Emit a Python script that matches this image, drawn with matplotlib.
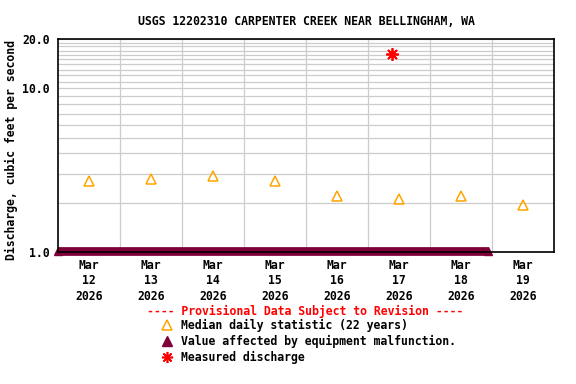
import numpy as np
import pandas as pd
import matplotlib
matplotlib.use('Agg')
import matplotlib.pyplot as plt
import matplotlib.dates as mdates
import matplotlib.transforms as mtransforms
from matplotlib.lines import Line2D
from matplotlib.ticker import FixedLocator, NullFormatter

# data
median_days = pd.to_datetime(['2026-03-12 12:00', '2026-03-13 12:00', '2026-03-14 12:00',
                              '2026-03-15 12:00', '2026-03-16 12:00', '2026-03-17 12:00',
                              '2026-03-18 12:00', '2026-03-19 12:00'])
median_flow = [2.73, 2.80, 2.93, 2.73, 2.21, 2.11, 2.21, 1.93]

measured_time = pd.to_datetime(['2026-03-17 09:20'])
measured_flow = [16.2]

# period flagged as equipment malfunction (values plotted at the bottom of the axis)
malf_time = pd.to_datetime(['2026-03-12 00:00', '2026-03-18 22:30'])
malf_flow = [1.0, 1.0]

tick_labels = ['Mar\n12\n2026', 'Mar\n13\n2026', 'Mar\n14\n2026', 'Mar\n15\n2026',
               'Mar\n16\n2026', 'Mar\n17\n2026', 'Mar\n18\n2026', 'Mar\n19\n2026']

title = 'USGS 12202310 CARPENTER CREEK NEAR BELLINGHAM, WA'

font = {'family': 'DejaVu Sans Mono', 'weight': 'bold', 'size': 8.3}
orange = '#ffa500'
maroon = '#7f0038'

fig = plt.figure(figsize=(5.76, 3.84), dpi=100)
ax = fig.add_axes([58 / 576, 1 - 252 / 384, (554 - 58) / 576, (252 - 39) / 384])

ax.set_yscale('log')
ax.set_ylim(1.0, 20.0)
ax.set_xlim(pd.Timestamp('2026-03-12'), pd.Timestamp('2026-03-20'))

# grid: midnight vertical lines, every unit horizontal line
ax.xaxis.set_major_locator(FixedLocator(mdates.date2num(median_days)))
ax.xaxis.set_minor_locator(FixedLocator(mdates.date2num(pd.date_range('2026-03-13', '2026-03-19'))))
ax.set_xticklabels(tick_labels, fontdict=font, linespacing=1.25)
ax.xaxis.set_minor_formatter(NullFormatter())
ax.grid(True, which='minor', axis='x', color='#cccccc', lw=0.9)

ax.yaxis.set_major_locator(FixedLocator([1.0, 10.0, 20.0]))
ax.yaxis.set_minor_locator(FixedLocator(list(range(2, 10)) + list(range(11, 20))))
ax.set_yticklabels(['1.0', '10.0', '20.0'], fontdict=font)
ax.yaxis.set_minor_formatter(NullFormatter())
ax.grid(True, which='both', axis='y', color='#cccccc', lw=0.9)
ax.set_axisbelow(True)

ax.tick_params(which='both', length=0)
ax.tick_params(axis='y', pad=6)
ax.tick_params(axis='x', pad=5)
for s in ax.spines.values():
    s.set_linewidth(1.2)
    s.set_zorder(5)

# malfunction band sits slightly above the bottom spine, as in the original
band_tr = mtransforms.offset_copy(ax.transData, fig=fig, x=0, y=1.5, units='dots')
ax.plot(malf_time, malf_flow, color=maroon, lw=6.3, solid_capstyle='butt',
        marker='^', ms=6, mfc=maroon, mec=maroon, clip_on=False, zorder=3,
        transform=band_tr)
ax.plot(median_days, median_flow, ls='none', marker='^', ms=7, mfc='none',
        mec=orange, mew=1.1, zorder=4)
ax.plot(measured_time, measured_flow, ls='none', marker=(8, 2, 0), ms=9,
        color='red', mew=1.3, zorder=4)

ax.set_title(title, fontdict=font, pad=10)
ax.set_ylabel('Discharge, cubic feet per second', fontdict=font)
ax.yaxis.set_label_coords((18 - 58) / 496, (252 - 150) / 213)

# legend block under the chart
fig.text(305 / 576, 1 - 311 / 384, '---- Provisional Data Subject to Revision ----',
         color='red', ha='center', va='center', **font)
entries = [
    (dict(marker='^', mfc='none', mec=orange, mew=1.1, ms=7), 'Median daily statistic (22 years)'),
    (dict(marker='^', mfc=maroon, mec=maroon, ms=7), 'Value affected by equipment malfunction.'),
    (dict(marker=(8, 2, 0), color='red', mew=1.2, ms=8), 'Measured discharge'),
]
for i, (style, label) in enumerate(entries):
    y = 1 - (325 + 16 * i) / 384
    fig.add_artist(Line2D([167 / 576], [y], ls='none', transform=fig.transFigure, **style))
    fig.text(181 / 576, y, label, ha='left', va='center', **font)

fig.savefig('out.png', dpi=100)
